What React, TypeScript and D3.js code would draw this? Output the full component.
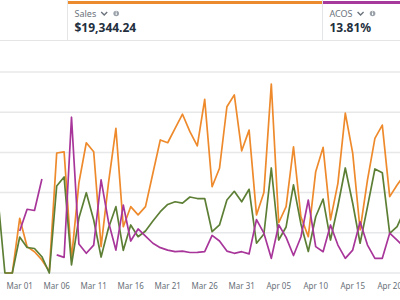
import { useEffect, useRef } from "react";
import * as d3 from "d3";

// first point of the series, one point per day
const firstDay = new Date(2024, 1, 27);

const salesValues: (number | null)[] = [
    null, 0, 0, 272, 131, 106, 65, 8, 597, 603, 70, 448, 648, 603, 131, 448, 720, 230, 330, 289,
    330, 496, 662, 648, 720, 790, 703, 632, 864, 429, 521, 827, 886, 608, 711, 289, 400, 940, 250,
    330, 628, 280, 181, 504, 625, 264, 446, 795, 596, 214, 463, 670, 736, 380, 438, 488,
];

const spendValues: (number | null)[] = [
    79.6, 0, 0, 35.8, 25.4, 24.4, 16.2, 0, 86.6, 95.5, 8, 54.7, 79.9, 52.7, 15.9, 44.8, 66, 22.6,
    47.8, 36.1, 41.8, 51.7, 61, 68.2, 70.9, 69.5, 75.6, 74.1, 74.1, 41.1, 47.8, 72.6, 81.3, 70.9,
    83.3, 29.6, 38.8, 104.5, 32.8, 45.8, 87.6, 48.8, 21.4, 56, 73.6, 32.8, 66.7, 104.5, 69.4, 29.6,
    66, 103.5, 99.8, 39.5, 46.1, 63,
];

const acosValues: (number | null)[] = [
    null, null, null, 20.9, 31.7, 31.1, 46.8, null, 9.0, 7.8, 77.5, 14.4, 9.8, 13.9, 46.3, 25.4,
    11.4, 33.8, 15.9, 21.9, 18.4, 14.8, 12.6, 11.4, 10.6, 10.9, 10.2, 10.3, 10.6, 18.7, 15.9, 10.9,
    9.8, 10.6, 9.5, 26.6, 19.8, 7.3, 24.0, 17.7, 8.7, 17.9, 36.3, 13.1, 10.6, 23.9, 13.9, 7.3, 11.4,
    25.5, 13.9, 7.3, 7.3, 19.8, 16.4, 12.6,
];

const gridTicks = [0, 200, 400, 600, 800, 1000];

const metricCards = [
    { label: "Sales", value: "$19,344.24", color: "#ec8a2e", x0: 67, x1: 322 },
    { label: "ACOS", value: "13.81%", color: "#a8399c", x0: 322, x1: 420 },
];

const App = () => {
    const svgRef = useRef<SVGSVGElement>(null);

    useEffect(() => {
        const svg = d3.select(svgRef.current);
        svg.selectAll("*").remove();

        const width = 400;
        const font = "'Noto Sans', 'Open Sans', sans-serif";

        // header strip with metric cards
        svg.append("line")
            .attr("x1", 0)
            .attr("x2", width)
            .attr("y1", 40.5)
            .attr("y2", 40.5)
            .attr("stroke", "#e3e5e7")
            .attr("stroke-width", 1.2);

        metricCards.forEach((card) => {
            const g = svg.append("g");
            g.append("line")
                .attr("x1", card.x0 + 0.5)
                .attr("x2", card.x0 + 0.5)
                .attr("y1", 0)
                .attr("y2", 40)
                .attr("stroke", "#e3e5e7");
            g.append("rect")
                .attr("x", card.x0 + 1)
                .attr("y", 1)
                .attr("width", card.x1 - card.x0 - 1)
                .attr("height", 3)
                .attr("fill", card.color);
            const label = g
                .append("text")
                .attr("x", card.x0 + 7.5)
                .attr("y", 16.5)
                .attr("font-family", font)
                .attr("font-size", 9)
                .attr("fill", "#6b737c")
                .text(card.label);
            const lw = (label.node() as SVGTextElement).getComputedTextLength();
            const cx = card.x0 + 7.5 + lw + 8;
            g.append("path")
                .attr("d", `M${cx - 3},${12} L${cx},${15} L${cx + 3},${12}`)
                .attr("fill", "none")
                .attr("stroke", "#6b737c")
                .attr("stroke-width", 1.4);
            // info icon
            g.append("circle")
                .attr("cx", cx + 12)
                .attr("cy", 13.5)
                .attr("r", 2.8)
                .attr("fill", "#9aa1a8");
            g.append("rect")
                .attr("x", cx + 11.5)
                .attr("y", 12.6)
                .attr("width", 1)
                .attr("height", 2.4)
                .attr("fill", "#fff");
            g.append("rect")
                .attr("x", cx + 11.5)
                .attr("y", 11.4)
                .attr("width", 1)
                .attr("height", 0.8)
                .attr("fill", "#fff");
            g.append("text")
                .attr("x", card.x0 + 7.5)
                .attr("y", 31.5)
                .attr("font-family", font)
                .attr("font-size", 12)
                .attr("font-weight", "bold")
                .attr("fill", "#232f3e")
                .text(card.value);
        });

        // chart
        const dates = salesValues.map((_, i) => d3.timeDay.offset(firstDay, i));
        const x = d3
            .scaleTime()
            .domain([new Date(2024, 2, 1), new Date(2024, 3, 20)])
            .range([19.7, 389.7]);
        const yTop = 72;
        const yBottom = 273;
        const ySales = d3.scaleLinear().domain([0, 1000]).range([yBottom, yTop]);
        const ySpend = d3.scaleLinear().domain([0, 200]).range([yBottom, yTop]);
        const yAcos = d3.scaleLinear().domain([0, 100]).range([yBottom, yTop]);

        svg.append("g")
            .selectAll("line")
            .data(gridTicks)
            .enter()
            .append("line")
            .attr("x1", 0)
            .attr("x2", width)
            .attr("y1", (d) => ySales(d))
            .attr("y2", (d) => ySales(d))
            .attr("stroke", "#e6e8ea")
            .attr("stroke-width", 1.5);

        svg.append("clipPath")
            .attr("id", "plotClip")
            .append("rect")
            .attr("x", 0)
            .attr("y", 50)
            .attr("width", width)
            .attr("height", 240);

        const series = [
            { values: salesValues, scale: ySales, color: "#ee8a2c" },
            { values: spendValues, scale: ySpend, color: "#5d7f35" },
            { values: acosValues, scale: yAcos, color: "#a8369a" },
        ];

        const plot = svg.append("g").attr("clip-path", "url(#plotClip)");
        series.forEach((s) => {
            const line = d3
                .line<number | null>()
                .defined((d) => d !== null)
                .x((_, i) => x(dates[i]))
                .y((d) => s.scale(d as number));
            plot.append("path")
                .datum(s.values)
                .attr("d", line)
                .attr("fill", "none")
                .attr("stroke", s.color)
                .attr("stroke-width", 1.7)
                .attr("stroke-linejoin", "round");
        });

        // date labels every 5 days from Mar 01
        const tickDates = d3.timeDay.range(new Date(2024, 2, 1), new Date(2024, 3, 21), 1).filter(
            (_, i) => i % 5 === 0
        );
        svg.append("g")
            .selectAll("text")
            .data(tickDates)
            .enter()
            .append("text")
            .attr("x", (d) => x(d))
            .attr("y", 289)
            .attr("text-anchor", "middle")
            .attr("font-family", font)
            .attr("font-size", 8)
            .attr("fill", "#687078")
            .text((d) => d3.timeFormat("%b %d")(d));
    }, []);

    return (
        <svg
            ref={svgRef}
            width={400}
            height={300}
            style={{ position: "fixed", left: 0, top: 0, background: "#fff" }}
        ></svg>
    );
};

export default App;
